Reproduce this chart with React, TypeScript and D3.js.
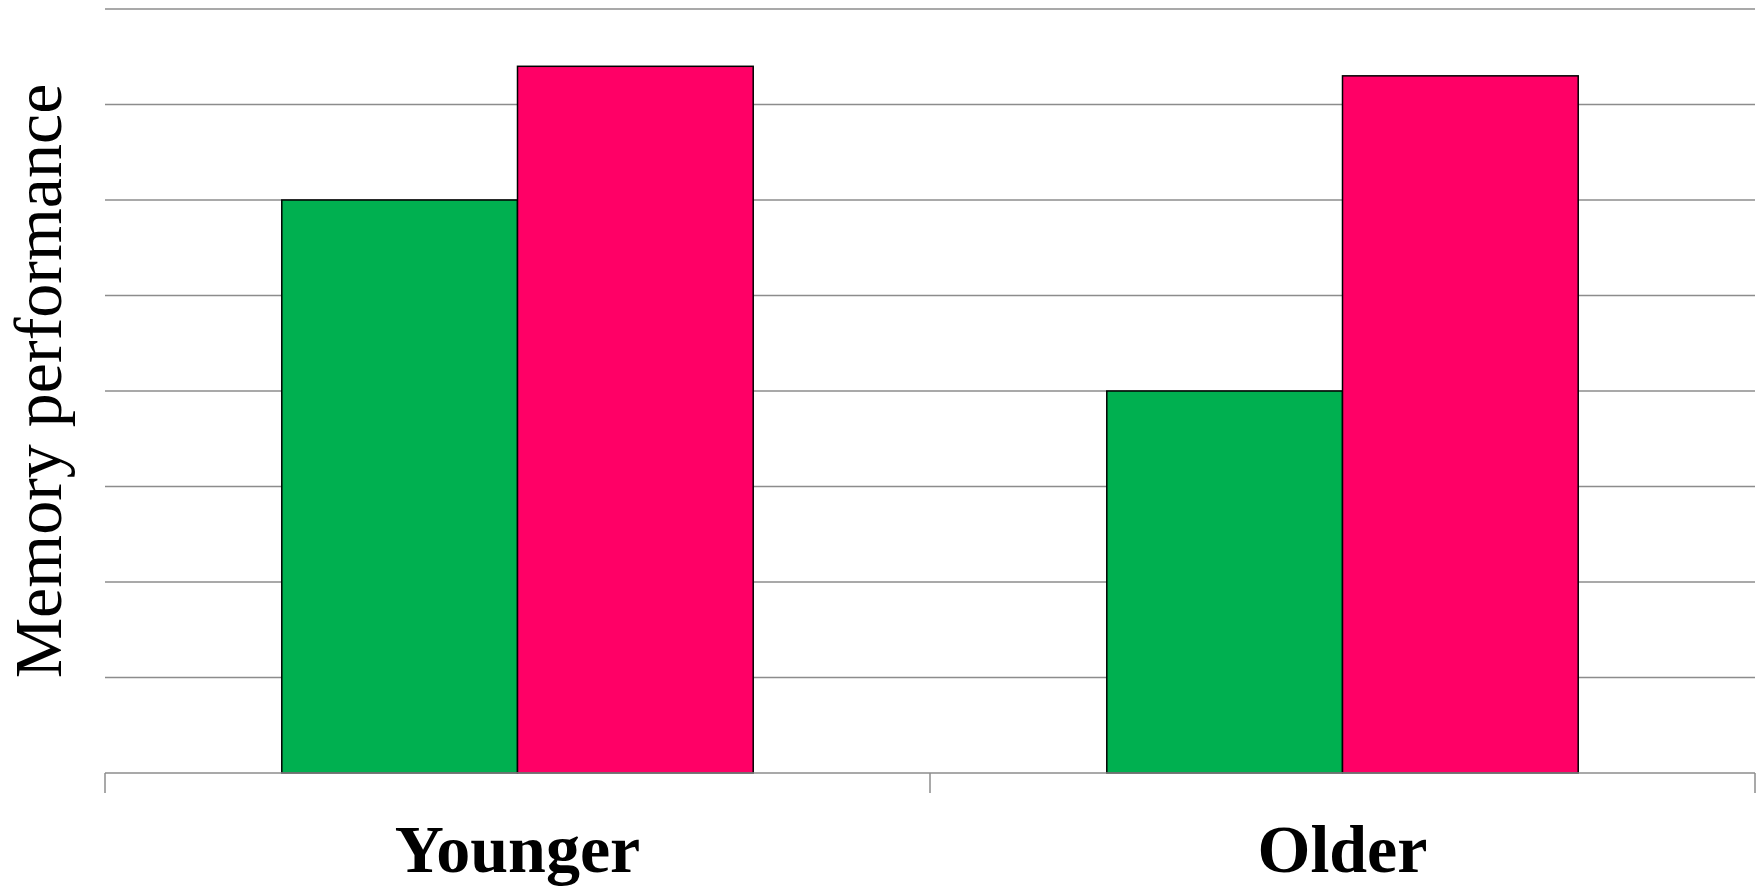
import React from "react";
import * as d3 from "d3";

const categories = ["Younger", "Older"];
const seriesNames = ["Condition A", "Condition B"];
const seriesA = [6.0, 4.0];
const seriesB = [7.4, 7.3];
const seriesColors = ["#00B050", "#FF0066"];
const yTicks = [0, 1, 2, 3, 4, 5, 6, 7, 8];
const yTitle = "Memory performance";

const W = 1763;
const H = 890;
const left = 105;
const right = 1755;
const top = 9;
const bottom = 773;

export default function App() {
  const x = d3.scaleBand<string>().domain(categories).range([left, right]).paddingInner(0).paddingOuter(0);
  const inner = d3
    .scaleBand<string>()
    .domain(seriesNames)
    .range([0, x.bandwidth()])
    .paddingInner(0)
    .paddingOuter(0.75);
  const y = d3.scaleLinear().domain([0, 8]).range([bottom, top]);
  const series = [seriesA, seriesB];

  const tickXs = [left, ...categories.map((c) => (x(c) as number) + x.bandwidth())];

  return (
    <svg
      width={W}
      height={H}
      style={{ position: "absolute", left: 0, top: 0, display: "block", background: "#fff" }}
    >
      {yTicks
        .filter((t) => t > 0)
        .map((t) => (
          <line key={t} x1={left} x2={right} y1={y(t)} y2={y(t)} stroke="#8c8c8c" strokeWidth={1.5} />
        ))}
      {categories.map((c, ci) =>
        series.map((s, si) => {
          const bx = (x(c) as number) + (inner(seriesNames[si]) as number);
          return (
            <rect
              key={c + si}
              x={bx}
              y={y(s[ci])}
              width={inner.bandwidth()}
              height={y(0) - y(s[ci])}
              fill={seriesColors[si]}
              stroke="#000"
              strokeWidth={1.5}
            />
          );
        })
      )}
      <line x1={left} x2={right} y1={y(0)} y2={y(0)} stroke="#8c8c8c" strokeWidth={1.5} />
      {tickXs.map((tx, i) => (
        <line key={i} x1={tx} x2={tx} y1={y(0)} y2={y(0) + 20} stroke="#8c8c8c" strokeWidth={1.5} />
      ))}
      {categories.map((c) => (
        <text
          key={c}
          x={(x(c) as number) + x.bandwidth() / 2}
          y={872}
          textAnchor="middle"
          fontFamily="'Liberation Serif', 'DejaVu Serif', serif"
          fontWeight="bold"
          fontSize={68}
          fill="#000"
        >
          {c}
        </text>
      ))}
      <text
        transform={`translate(61, 381) rotate(-90)`}
        textAnchor="middle"
        fontFamily="'Liberation Serif', 'DejaVu Serif', serif"
        fontSize={68}
        fill="#000"
      >
        {yTitle}
      </text>
    </svg>
  );
}
